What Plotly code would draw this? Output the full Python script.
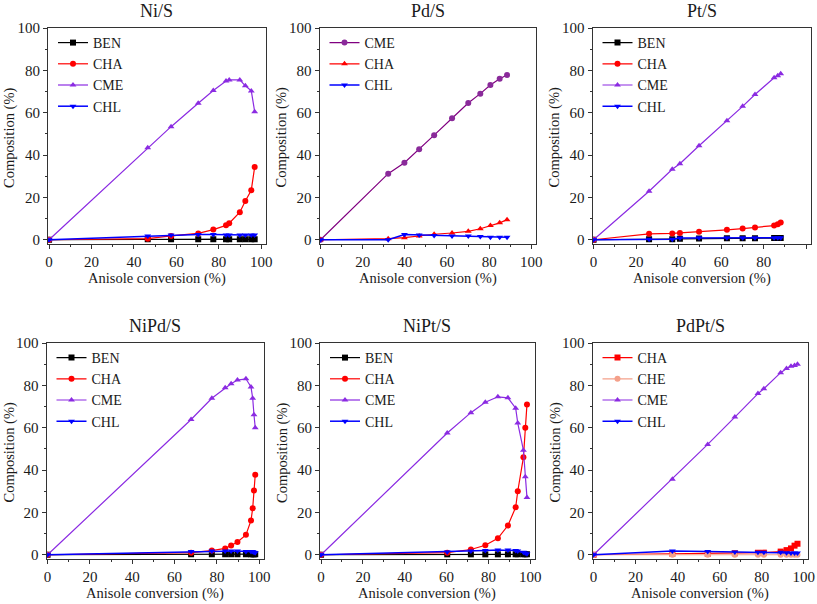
import plotly.graph_objects as go

# ---------------- data ----------------
PANEL_TITLES = ["Ni/S", "Pd/S", "Pt/S", "NiPd/S", "NiPt/S", "PdPt/S"]

NI_X = [0, 46.5, 57.5, 70.3, 77.4, 83.4, 84.9, 89.9, 92.5, 95.3, 96.9]
NI_BEN = [0, 0.3, 0.3, 0.3, 0.3, 0.3, 0.3, 0.3, 0.2, 0.2, 0.2]
NI_CHA = [0, 0.5, 1.8, 3.0, 4.8, 6.8, 7.8, 13.0, 18.3, 23.4, 34.4]
NI_CME = [0, 43.4, 53.4, 64.5, 70.5, 75.0, 75.5, 75.5, 72.7, 70.3, 60.5]
NI_CHL = [0, 1.8, 2.2, 2.5, 2.5, 2.3, 2.3, 2.3, 2.3, 2.3, 2.3]

PD_X = [0, 32.1, 39.8, 46.8, 53.9, 62.4, 70.1, 75.8, 80.6, 85.0, 88.5]
PD_CME = [0, 31.2, 36.4, 42.7, 49.4, 57.4, 64.6, 69.0, 73.1, 76.0, 77.8]
PD_CHA = [0, 0.5, 1.0, 1.8, 2.6, 3.2, 4.0, 5.2, 6.7, 8.0, 9.5]
PD_CHL = [0, 0.0, 2.5, 2.3, 2.0, 1.8, 1.8, 1.5, 1.2, 1.2, 1.2]

PT_X = [0, 26.1, 37.0, 40.6, 49.6, 62.7, 70.1, 75.9, 84.9, 86.6, 88.0]
PT_BEN = [0, 0.3, 0.3, 0.5, 0.6, 0.7, 0.7, 0.7, 0.8, 0.8, 0.8]
PT_CHA = [0, 2.8, 3.0, 3.2, 3.8, 4.7, 5.3, 5.8, 6.7, 7.3, 8.2]
PT_CME = [0, 22.9, 33.3, 35.9, 44.4, 56.2, 63.0, 68.6, 76.5, 77.4, 78.4]
PT_CHL = [0, 0.3, 0.2, 0.8, 0.9, 1.0, 1.0, 1.0, 1.0, 1.0, 1.0]

NIPD_X = [0, 67.8, 77.6, 83.9, 86.7, 89.7, 93.7, 96.1, 96.9, 97.5, 98.1]
NIPD_BEN = [0, 0.3, 0.3, 0.3, 0.3, 0.3, 0.3, 0.3, 0.3, 0.3, 0.3]
NIPD_CHA = [0, 1.0, 2.0, 3.0, 4.4, 6.0, 9.4, 16.2, 22.0, 30.4, 37.8]
NIPD_CME = [0, 63.9, 73.9, 78.9, 80.8, 82.5, 83.1, 79.2, 73.9, 66.1, 60.0]
NIPD_CHL = [0, 1.5, 1.8, 1.8, 1.8, 1.8, 1.6, 1.6, 1.5, 1.2, 1.0]

NIPT_X = [0, 60.3, 71.6, 78.5, 84.5, 89.3, 93.0, 94.0, 96.7, 97.6, 98.4]
NIPT_BEN = [0, 0.2, 0.2, 0.2, 0.2, 0.2, 0.2, 0.2, 0.2, 0.2, 0.2]
NIPT_CHA = [0, 1.0, 2.5, 4.5, 7.8, 13.8, 22.4, 30.0, 46.0, 60.0, 71.0]
NIPT_CME = [0, 57.5, 67.1, 72.0, 74.6, 74.1, 69.2, 62.2, 49.4, 36.8, 27.0]
NIPT_CHL = [0, 1.3, 1.8, 2.0, 2.2, 2.2, 2.0, 1.8, 1.2, 0.8, 0.5]

PDPT_X = [0, 37.5, 54.3, 67.2, 78.2, 81.0, 89.0, 91.8, 93.9, 95.6, 97.0]
PDPT_CHA = [0, 0.5, 0.5, 0.7, 0.9, 1.0, 1.5, 2.2, 3.0, 4.3, 5.2]
PDPT_CHE = [0, 0.0, 0.0, 0.0, 0.0, 0.0, 0.0, 0.0, 0.0, 0.0, 0.0]
PDPT_CME = [0, 35.7, 52.1, 65.0, 76.1, 78.4, 86.0, 88.0, 89.0, 89.4, 90.0]
PDPT_CHL = [0, 1.8, 1.5, 1.3, 1.2, 1.2, 1.2, 1.0, 0.8, 0.8, 0.8]

X_TICKS = [0, 20, 40, 60, 80, 100]
Y_TICKS = [0, 20, 40, 60, 80, 100]

# ---------------- styles ----------------
BLACK = "#000000"
RED = "#ff0000"
VIOLET = "#8b2be2"
BLUE = "#0000ff"
SALMON = "#f4a08a"
PURPLE_DARK = "#800080"

W, H = 817, 604
FONT = "Liberation Serif"
TXT = "#1a1a1a"


def px_x(p):
    return p / W


def px_y(p):
    return 1 - p / H


# frame pixel boxes in page pixels: (left, right, top, bottom)
BOXES = [
    (48, 265.5, 28, 244),
    (319.5, 535.5, 28, 244),
    (592.5, 810.5, 28, 244),
    (46.5, 263.5, 343, 559),
    (320, 534.5, 343, 559),
    (592.5, 808, 343, 559),
]

panels = [
    (NI_X, [("BEN", NI_BEN, BLACK, "square", BLACK), ("CHA", NI_CHA, RED, "circle", RED),
            ("CME", NI_CME, VIOLET, "triangle-up", VIOLET), ("CHL", NI_CHL, BLUE, "triangle-down", BLUE)]),
    (PD_X, [("CME", PD_CME, PURPLE_DARK, "circle", "#8a2a9a"), ("CHA", PD_CHA, RED, "triangle-up", RED),
            ("CHL", PD_CHL, BLUE, "triangle-down", BLUE)]),
    (PT_X, [("BEN", PT_BEN, BLACK, "square", BLACK), ("CHA", PT_CHA, RED, "circle", RED),
            ("CME", PT_CME, VIOLET, "triangle-up", VIOLET), ("CHL", PT_CHL, BLUE, "triangle-down", BLUE)]),
    (NIPD_X, [("BEN", NIPD_BEN, BLACK, "square", BLACK), ("CHA", NIPD_CHA, RED, "circle", RED),
              ("CME", NIPD_CME, VIOLET, "triangle-up", VIOLET), ("CHL", NIPD_CHL, BLUE, "triangle-down", BLUE)]),
    (NIPT_X, [("BEN", NIPT_BEN, BLACK, "square", BLACK), ("CHA", NIPT_CHA, RED, "circle", RED),
              ("CME", NIPT_CME, VIOLET, "triangle-up", VIOLET), ("CHL", NIPT_CHL, BLUE, "triangle-down", BLUE)]),
    (PDPT_X, [("CHA", PDPT_CHA, RED, "square", RED), ("CHE", PDPT_CHE, SALMON, "circle", SALMON),
              ("CME", PDPT_CME, VIOLET, "triangle-up", VIOLET), ("CHL", PDPT_CHL, BLUE, "triangle-down", BLUE)]),
]

fig = go.Figure()
annotations = []

for i, ((xs, series), box, title) in enumerate(zip(panels, BOXES, PANEL_TITLES)):
    n = i + 1
    xa = "x" if n == 1 else f"x{n}"
    ya = "y" if n == 1 else f"y{n}"
    lg = "legend" if n == 1 else f"legend{n}"
    for name, ys, lc, sym, mc in series:
        fig.add_trace(go.Scatter(
            x=xs, y=ys, name=name, mode="lines+markers",
            line=dict(color=lc, width=1.5 if name == "CHL" else 1.2),
            marker=dict(symbol=sym, size=6, color=mc, line=dict(width=0)),
            xaxis=xa, yaxis=ya, legend=lg, showlegend=True,
        ))
    left, right, top, bottom = box
    axis_common = dict(
        showline=True, linecolor="#333333", linewidth=1, mirror=True,
        ticks="outside", ticklen=4, tickwidth=1, tickcolor="#333333",
        showgrid=False, zeroline=False, automargin=False,
        tickfont=dict(family=FONT, size=15, color=TXT),
        minor=dict(ticks="outside", ticklen=2, tickwidth=1, tickcolor="#333333", dtick=10),
    )
    fig.layout[f"xaxis{'' if n == 1 else n}"] = dict(
        domain=[px_x(left), px_x(right)], range=[-0.5, 102], tickvals=X_TICKS, anchor=ya, **axis_common)
    fig.layout[f"yaxis{'' if n == 1 else n}"] = dict(
        domain=[px_y(bottom), px_y(top)], range=[-2, 100], tickvals=Y_TICKS, anchor=xa, **axis_common)
    fig.layout[lg] = dict(
        x=px_x(left + 5), y=px_y(top - 1), xanchor="left", yanchor="top",
        bgcolor="rgba(0,0,0,0)", borderwidth=0,
        font=dict(family=FONT, size=14, color=TXT),
        tracegroupgap=0,
    )
    cx = (left + right) / 2
    annotations.append(dict(text=title, x=px_x(cx), y=px_y(top - 17), xref="paper", yref="paper",
                            showarrow=False, font=dict(family=FONT, size=18, color=TXT),
                            xanchor="center", yanchor="middle"))
    annotations.append(dict(text="Anisole conversion (%)", x=px_x(cx), y=px_y(bottom + 34),
                            xref="paper", yref="paper", showarrow=False,
                            font=dict(family=FONT, size=14.5, color=TXT),
                            xanchor="center", yanchor="middle"))
    annotations.append(dict(text="Composition (%)", x=px_x(left - 38), y=px_y((top + bottom) / 2 + 2),
                            xref="paper", yref="paper", showarrow=False, textangle=-90,
                            font=dict(family=FONT, size=14.5, color=TXT),
                            xanchor="center", yanchor="middle"))

fig.update_layout(
    template="none",
    width=W, height=H, margin=dict(l=0, r=0, t=0, b=0, autoexpand=False),
    paper_bgcolor="white", plot_bgcolor="white",
    annotations=annotations, font=dict(family=FONT, color=TXT),
)

fig.write_html("out.html", config={"displayModeBar": False},
               post_script="document.body.style.margin='0';")
